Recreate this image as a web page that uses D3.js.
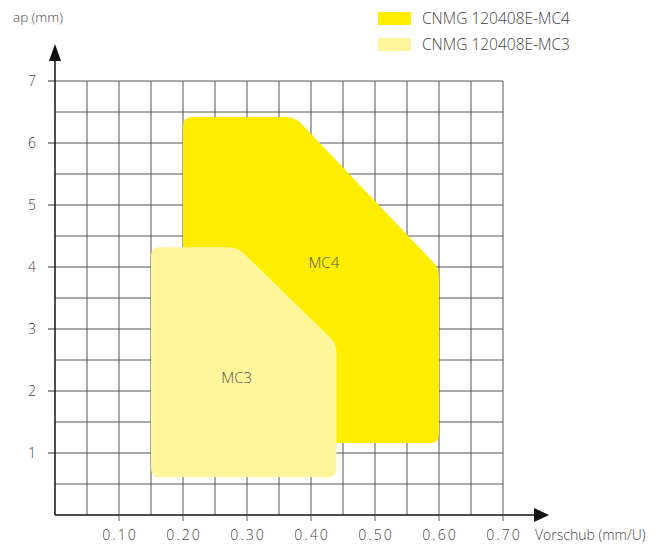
<!DOCTYPE html>
<html>
<head>
<meta charset="utf-8">
<script src="https://cdn.jsdelivr.net/npm/d3@7"></script>
<style>
  body { margin: 0; background: #fff; }
  svg text { font-family: "Open Sans", sans-serif; font-weight: 300; fill: #444; }
</style>
</head>
<body>
<svg id="chart" width="664" height="547"></svg>
<script>
// ticks
const xTicks = [0.10, 0.20, 0.30, 0.40, 0.50, 0.60, 0.70];
const yTicks = [1, 2, 3, 4, 5, 6, 7];
const xGrid = d3.range(1, 15).map(i => i * 0.05);
const yGrid = d3.range(1, 15).map(i => i * 0.5);

// application areas (Vorschub, ap)
const seriesNames = ['CNMG 120408E-MC4', 'CNMG 120408E-MC3'];
const shortNames = ['MC4', 'MC3'];
const mc4Feed = [0.20, 0.375, 0.60, 0.60, 0.20];
const mc4Depth = [6.42, 6.42, 3.98, 1.16, 1.16];
const mc3Feed = [0.15, 0.285, 0.44, 0.44, 0.15];
const mc3Depth = [4.32, 4.32, 2.76, 0.61, 0.61];
const labelFeed = [0.42, 0.284];
const labelDepth = [4.07, 2.22];

const colors = ['#ffed00', '#fff59b'];

var svg = d3.select('#chart');
var x = d3.scaleLinear().domain([0, 0.7]).range([55, 503]);
var y = d3.scaleLinear().domain([0, 7]).range([515, 81]);

// grid
svg.append('g').selectAll('line').data(xGrid).join('line')
    .attr('x1', d => x(d)).attr('x2', d => x(d))
    .attr('y1', y(0)).attr('y2', y(7))
    .attr('stroke', '#555').attr('stroke-width', 1);
svg.append('g').selectAll('line').data(yGrid).join('line')
    .attr('x1', x(0)).attr('x2', x(0.7))
    .attr('y1', d => y(d)).attr('y2', d => y(d))
    .attr('stroke', '#555').attr('stroke-width', 1);

// rounded polygon path
function roundedPath(pts, r) {
    var n = pts.length, p = d3.path();
    for (var i = 0; i < n; i++) {
        var prev = pts[(i - 1 + n) % n], cur = pts[i], next = pts[(i + 1) % n];
        var d1 = Math.hypot(prev[0] - cur[0], prev[1] - cur[1]);
        var d2 = Math.hypot(next[0] - cur[0], next[1] - cur[1]);
        var a = [cur[0] + (prev[0] - cur[0]) * r / d1, cur[1] + (prev[1] - cur[1]) * r / d1];
        var b = [cur[0] + (next[0] - cur[0]) * r / d2, cur[1] + (next[1] - cur[1]) * r / d2];
        if (i === 0) p.moveTo(a[0], a[1]); else p.lineTo(a[0], a[1]);
        p.quadraticCurveTo(cur[0], cur[1], b[0], b[1]);
    }
    p.closePath();
    return p.toString();
}

var areas = [
    d3.zip(mc4Feed, mc4Depth),
    d3.zip(mc3Feed, mc3Depth)
];
areas.forEach(function(a, i) {
    svg.append('path')
        .attr('d', roundedPath(a.map(d => [x(d[0]), y(d[1])]), 9))
        .attr('fill', colors[i]);
    svg.append('text')
        .attr('x', x(labelFeed[i])).attr('y', y(labelDepth[i]))
        .attr('text-anchor', 'middle').attr('dy', '0.35em')
        .style('font-size', '15px').style('fill', '#555')
        .text(shortNames[i]);
});

// axes
svg.append('line').attr('x1', x(0)).attr('x2', 536).attr('y1', y(0)).attr('y2', y(0))
    .attr('stroke', '#111').attr('stroke-width', 1.5);
svg.append('path').attr('d', 'M534,508L549,515L534,522Z').attr('fill', '#111');
svg.append('line').attr('x1', x(0)).attr('x2', x(0)).attr('y1', y(0)).attr('y2', 60)
    .attr('stroke', '#111').attr('stroke-width', 1.5);
svg.append('path').attr('d', 'M49,61L55,44L61,61Z').attr('fill', '#111');

// y ticks
svg.append('g').selectAll('line').data(yTicks).join('line')
    .attr('x1', 48).attr('x2', x(0))
    .attr('y1', d => y(d)).attr('y2', d => y(d))
    .attr('stroke', '#333');
svg.append('g').selectAll('text').data(yTicks).join('text')
    .attr('x', 36).attr('y', d => y(d)).attr('dy', '0.35em')
    .attr('text-anchor', 'end').style('font-size', '14px')
    .text(d => d);

// x ticks and labels
svg.append('g').selectAll('line').data(xTicks).join('line')
    .attr('x1', d => x(d)).attr('x2', d => x(d))
    .attr('y1', y(0)).attr('y2', y(0) + 6)
    .attr('stroke', '#555');
svg.append('g').selectAll('text').data(xTicks).join('text')
    .attr('x', d => x(d) + 1).attr('y', 540)
    .attr('text-anchor', 'middle').style('font-size', '14px')
    .style('letter-spacing', '2px')
    .text(d => d.toFixed(2));

svg.append('text').attr('x', 535).attr('y', 540).style('font-size', '14px')
    .text('Vorschub (mm/U)');
svg.append('text').attr('x', 13).attr('y', 22).style('font-size', '13.5px')
    .text('ap (mm)');

// legend
seriesNames.forEach(function(name, i) {
    svg.append('rect').attr('x', 378).attr('y', 12 + i * 26)
        .attr('width', 33).attr('height', 13).attr('fill', colors[i]);
    svg.append('text').attr('x', 422).attr('y', 19 + i * 26).attr('dy', '0.35em')
        .style('font-size', '15.5px').text(name);
});
</script>
</body>
</html>
